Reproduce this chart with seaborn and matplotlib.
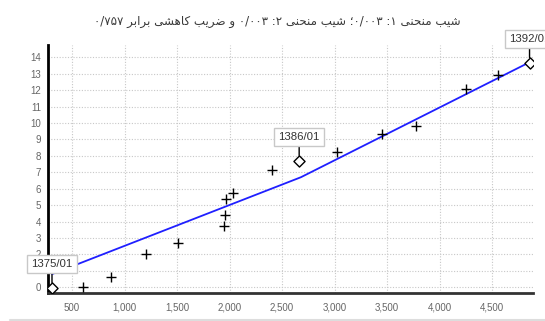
import re
import matplotlib
matplotlib.use("Agg")
import matplotlib.pyplot as plt
from matplotlib.lines import Line2D
import numpy as np
import pandas as pd
import seaborn as sns

# Observed values (cumulative axis vs. measured series)
obs_x = [608, 873, 1207, 1507, 1946, 1956, 1969, 2033, 2409, 3021, 3451, 3773, 4248, 4560]
obs_y = [0.0, 0.63, 2.0, 2.7, 3.71, 4.42, 5.36, 5.76, 7.12, 8.23, 9.31, 9.82, 12.09, 12.94]

# Labelled reference points (year/month)
key_x = [309, 2663, 4857]
key_y = [-0.05, 7.69, 13.65]
key_labels = ["1375/01", "1386/01", "1392/01"]

# Two-segment fitted curve
fit_x = [309, 2680, 4857]
fit_y = [0.8, 6.7, 13.7]

x_ticks = [500, 1000, 1500, 2000, 2500, 3000, 3500, 4000, 4500]
y_ticks = list(range(0, 15))
# the "1" label sits under the 1375/01 callout box
y_ticklabels = ["0", ""] + [str(v) for v in range(2, 15)]

title_text = "شیب منحنی ۱: ۰/۰۰۳؛ شیب منحنی ۲: ۰/۰۰۳ و ضریب کاهشی برابر ۰/۷۵۷"

# --- minimal Persian shaping + visual ordering for matplotlib ---
FORMS = {
    'ش': ('\uFEB5', '\uFEB6', '\uFEB7', '\uFEB8'),
    'ی': ('\uFBFC', '\uFBFD', '\uFBFE', '\uFBFF'),
    'ب': ('\uFE8F', '\uFE90', '\uFE91', '\uFE92'),
    'م': ('\uFEE1', '\uFEE2', '\uFEE3', '\uFEE4'),
    'ن': ('\uFEE5', '\uFEE6', '\uFEE7', '\uFEE8'),
    'ح': ('\uFEA1', '\uFEA2', '\uFEA3', '\uFEA4'),
    'ض': ('\uFEBD', '\uFEBE', '\uFEBF', '\uFEC0'),
    'ک': ('\uFB8E', '\uFB8F', '\uFB90', '\uFB91'),
    'ه': ('\uFEE9', '\uFEEA', '\uFEEB', '\uFEEC'),
    'و': ('\uFEED', '\uFEEE'),
    'ر': ('\uFEAD', '\uFEAE'),
    'ا': ('\uFE8D', '\uFE8E'),
}


def shape(text):
    out = []
    for i, ch in enumerate(text):
        if ch not in FORMS:
            out.append(ch)
            continue
        prev = text[i - 1] if i > 0 else ''
        nxt = text[i + 1] if i + 1 < len(text) else ''
        jp = prev in FORMS and len(FORMS[prev]) == 4
        jn = len(FORMS[ch]) == 4 and nxt in FORMS
        f = FORMS[ch]
        if jp and jn:
            out.append(f[3])
        elif jp:
            out.append(f[1])
        elif jn:
            out.append(f[2])
        else:
            out.append(f[0])
    return ''.join(out)


def visual(text):
    shaped = shape(text)
    units = re.findall(r'[۰-۹]+(?:/[۰-۹]+)*|.', shaped)
    return ''.join(reversed(units))


sns.set_theme(style="white")
plt.rcParams['font.family'] = ['Liberation Sans', 'DejaVu Sans']

fig = plt.figure(figsize=(5.45, 3.21), dpi=100)
ax = fig.add_axes([48 / 545, 1 - 293 / 321, (533 - 48) / 545, (293 - 45) / 321])

df_obs = pd.DataFrame({"x": obs_x, "y": obs_y})
df_key = pd.DataFrame({"x": key_x, "y": key_y, "label": key_labels})
df_fit = pd.DataFrame({"x": fit_x, "y": fit_y})

sns.lineplot(data=df_fit, x="x", y="y", ax=ax, color="#1f1fff", lw=1.3,
             sort=False, zorder=3)
sns.scatterplot(data=df_obs, x="x", y="y", ax=ax, marker="+", s=45,
                color="black", linewidth=1.0, zorder=4)
sns.scatterplot(data=df_key, x="x", y="y", ax=ax, marker="D", s=32,
                facecolor="white", edgecolor="black", linewidth=1.0, zorder=5)

for _, r in df_key.iterrows():
    ann = ax.annotate(r["label"], xy=(r["x"], r["y"]), xytext=(0, 17),
                      textcoords="offset points", ha="center", va="center",
                      fontsize=8.2, color="#333333", annotation_clip=False,
                      bbox=dict(boxstyle="square,pad=0.35", fc="white",
                                ec="#c8c8c8", lw=1.0),
                      arrowprops=dict(arrowstyle="-", color="black", lw=1.0,
                                      shrinkA=0, shrinkB=4),
                      zorder=10)
    ann.set_clip_on(False)

ax.set_xlim(271, 4890)
ax.set_ylim(-0.35, 14.75)
ax.set_xticks(x_ticks)
ax.set_xticklabels([f"{v:,}" for v in x_ticks])
ax.set_xticks(np.arange(300, 4900, 100), minor=True)
ax.set_yticks(y_ticks)
ax.set_yticklabels(y_ticklabels)
ax.set_xlabel("")
ax.set_ylabel("")

ax.grid(True, which="major", color="#c8c8c8", linestyle=(0, (1, 1.5)), lw=0.8)
ax.set_axisbelow(True)

ax.tick_params(axis="both", which="major", labelsize=7, labelcolor="#666666",
               length=3, width=0.8, color="#333333", pad=2)
ax.tick_params(axis="x", which="minor", length=2, width=0.6, color="#555555")
ax.tick_params(axis="x", which="major", length=3, pad=4)

for side in ["top", "right"]:
    ax.spines[side].set_visible(False)
ax.spines["left"].set_color("black")
ax.spines["left"].set_linewidth(2.0)
ax.spines["bottom"].set_color("#333333")
ax.spines["bottom"].set_linewidth(2.0)

fig.text(277 / 545, 1 - 22 / 321, visual(title_text), ha="center", va="center",
         fontsize=8.6, color="#3a3a3a", family=["DejaVu Sans"])

fig.add_artist(Line2D([10 / 545, 1.0], [1.5 / 321, 1.5 / 321],
                      color="#dddddd", lw=1.5))

fig.savefig("out.png", dpi=100)
